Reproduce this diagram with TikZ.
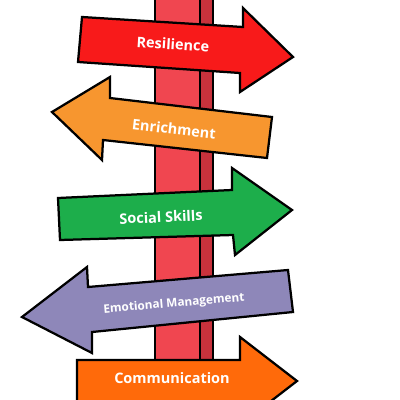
\documentclass[tikz,border=0pt]{standalone}
\usepackage{fontspec}
\setsansfont{Open Sans}
\usepackage{tikz}
\definecolor{cPost}{HTML}{F04650}
\definecolor{cPostDark}{HTML}{C8323C}
\definecolor{cRes}{HTML}{F81A1A}
\definecolor{cEnr}{HTML}{F7962F}
\definecolor{cSoc}{HTML}{1DAE4B}
\definecolor{cEmo}{HTML}{8E87B9}
\definecolor{cCom}{HTML}{FF6A0A}

\begin{document}
\begin{tikzpicture}[x=0.25mm, y=-0.25mm, line join=miter,
  post/.style={draw=black, line width=1.4pt},
  sign/.style={draw=black, line width=1.6pt},
  lbl/.style={text=white, font=\sffamily\bfseries\fontsize{10.3}{12}\selectfont, inner sep=0pt}]

  \useasboundingbox (0,0) rectangle (400,400);
  \clip (0,0) rectangle (400,400);

  % the post
  \fill[cPost] (155,-5) rectangle (200,405);
  \fill[cPostDark] (200,-5) rectangle (213,405);
  \draw[post] (155,-5) -- (155,405) (200,-5) -- (200,405) (213,-5) -- (213,405);

  % Resilience (points right)
  \draw[sign, fill=cRes] (82,17) -- (243,27) -- (243,8) -- (293,57)
     -- (240,92) -- (240,73) -- (78,62) -- cycle;
  \node[lbl, rotate=-3.5] (res) at (173,44) {Resilience};

  % Enrichment (points left)
  \draw[sign, fill=cEnr] (272,117) -- (110,98) -- (110,77) -- (52,112)
     -- (102,160) -- (103,140) -- (267,158) -- cycle;
  \node[lbl, rotate=-6.5] (enr) at (174,129) {Enrichment};

  % Social Skills (points right)
  \draw[sign, fill=cSoc] (58,198) -- (232,190) -- (232,168) -- (292,210)
     -- (235,255) -- (233,235) -- (60,240) -- cycle;
  \node[lbl, rotate=2.6] (soc) at (161,217) {Social Skills};

  % Emotional Management (points left)
  \draw[sign, fill=cEmo] (288,270) -- (88,287) -- (87,267) -- (22,317)
     -- (92,353) -- (92,332) -- (293,312) -- cycle;
  \node[lbl, rotate=5, font=\sffamily\bfseries\fontsize{8.4}{10}\selectfont] (emo) at (174,304) {Emotional Management};

  % Communication (points right)
  \draw[sign, fill=cCom] (77,360) -- (240,360) -- (240,337) -- (297,381)
     -- (240,425) -- (240,402) -- (77,402) -- cycle;
  \node[lbl] (com) at (172,378) {Communication};
\end{tikzpicture}
\end{document}
